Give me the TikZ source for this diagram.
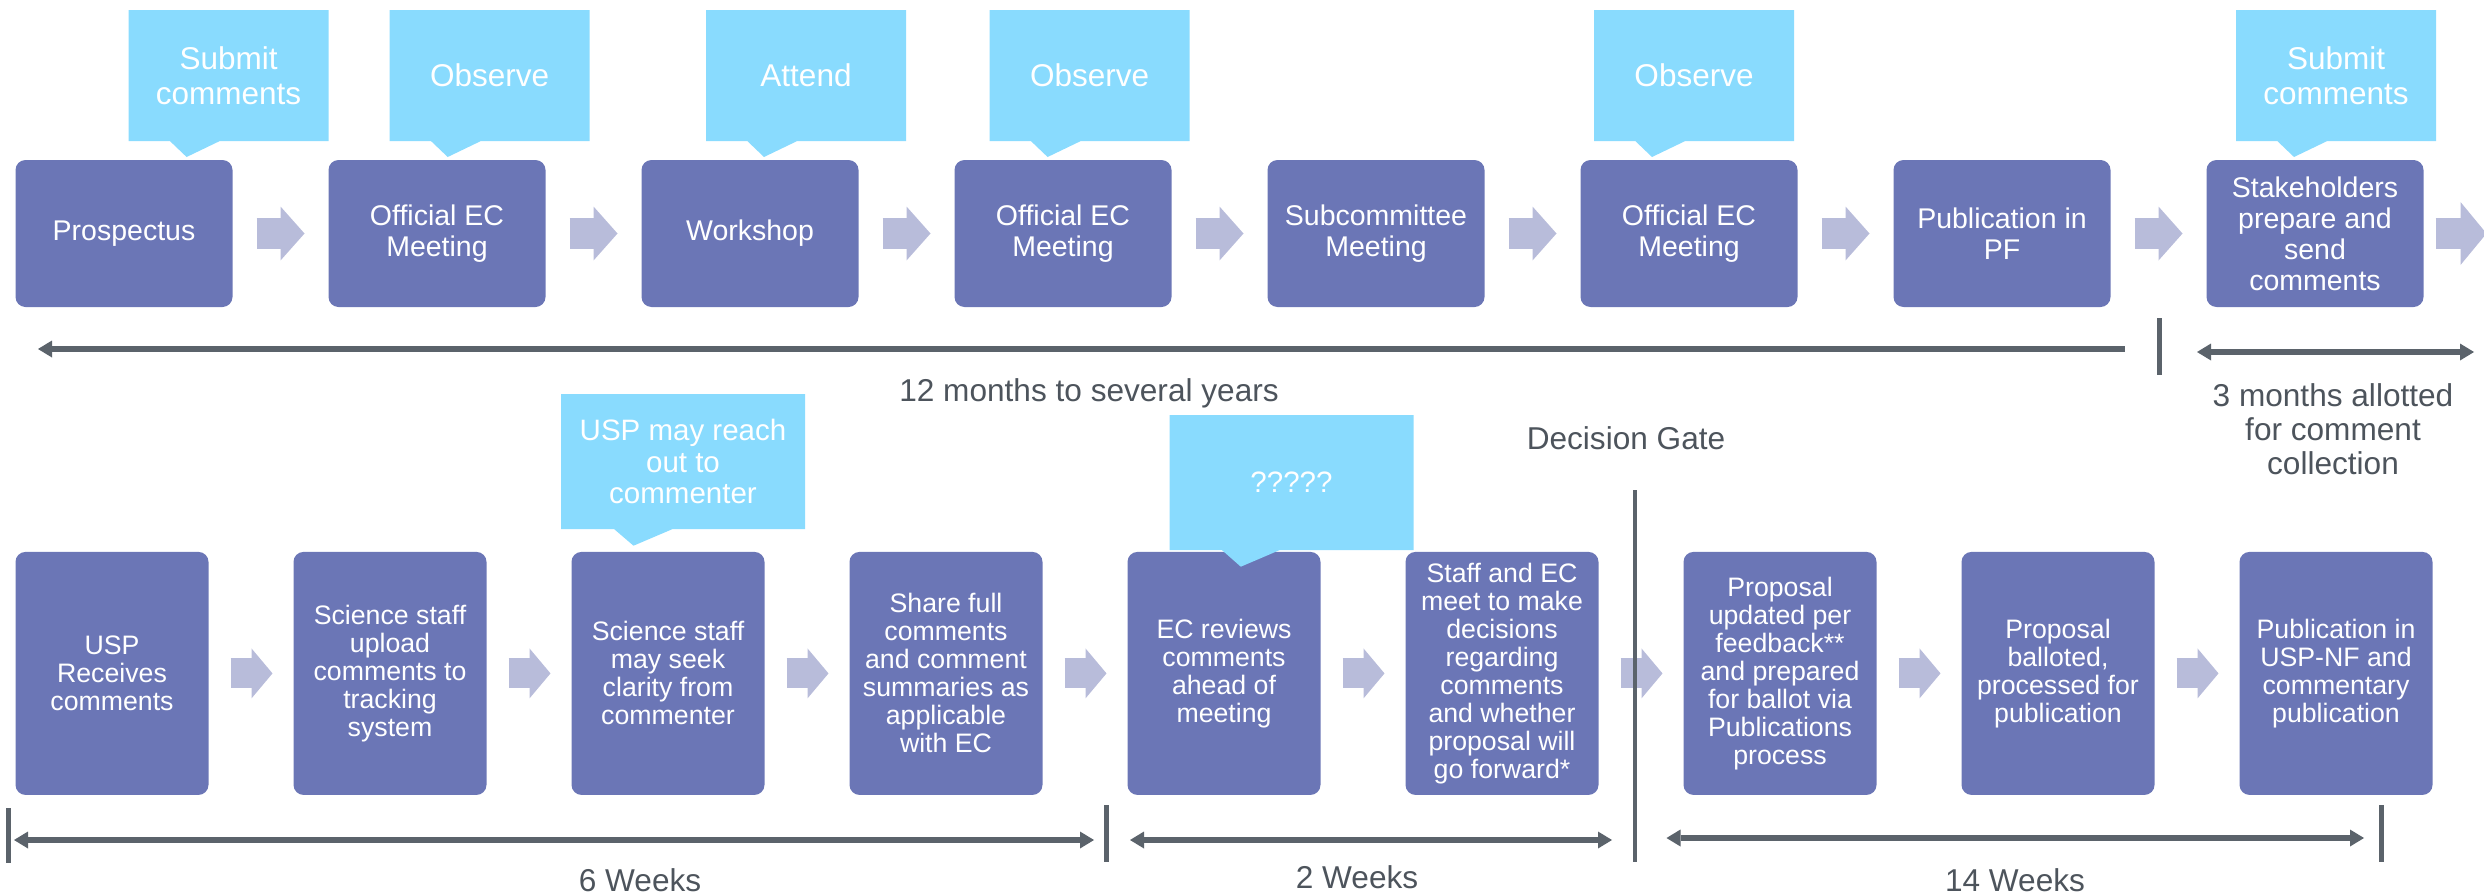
\documentclass[tikz,border=0pt]{standalone}
\usepackage{fontspec}
\setmainfont{Liberation Sans}
\usetikzlibrary{positioning,arrows.meta,shapes.callouts}

\definecolor{boxblue}{HTML}{6B76B6}
\definecolor{flowgray}{HTML}{B8BCDA}
\definecolor{noteblue}{HTML}{89DBFE}
\definecolor{linegray}{HTML}{5B636B}
\definecolor{labelgray}{HTML}{4D545C}

\begin{document}
\begin{tikzpicture}[x=1pt,y=-1pt,
    top node/.style={rectangle,rounded corners=10pt,fill=boxblue,text=white,align=center,
      inner sep=2pt,outer sep=0pt,minimum width=217pt,minimum height=147pt,
      font=\fontsize{28.5}{31}\selectfont},
    low node/.style={top node,minimum width=193pt,minimum height=243pt,
      font=\fontsize{26.7}{28}\selectfont},
    note/.style={rectangle callout,fill=noteblue,text=white,align=center,
      minimum width=200pt,minimum height=131pt,callout pointer width=50pt,
      font=\fontsize{31.5}{35}\selectfont},
    low note/.style={note,minimum width=244pt,minimum height=135pt,callout pointer width=58pt,
      font=\fontsize{29.5}{31.7}\selectfont},
    flow/.style={color=flowgray,line width=31pt,shorten <=24pt,shorten >=24pt,
      -{Triangle[length=24pt,width=54pt,line width=0pt,color=flowgray]}},
    low flow/.style={color=flowgray,line width=30pt,shorten <=22pt,shorten >=21pt,
      -{Triangle[length=21pt,width=50pt,line width=0pt,color=flowgray]}},
    span/.style={draw=linegray,line width=6pt,>={Triangle[length=14pt,width=17pt,line width=0pt]}},
    tick/.style={draw=linegray,line width=5pt},
    lbl/.style={text=labelgray,align=center,font=\fontsize{31.6}{34}\selectfont}]
  \useasboundingbox (0,0) rectangle (2484,894);

  % top row
  \node[top node] (t1) at (124,233.5) {Prospectus};
  \node[top node] (t2) [right=96pt of t1] {Official EC\\Meeting};
  \node[top node] (t3) [right=96pt of t2] {Workshop};
  \node[top node] (t4) [right=96pt of t3] {Official EC\\Meeting};
  \node[top node] (t5) [right=96pt of t4] {Subcommittee\\Meeting};
  \node[top node] (t6) [right=96pt of t5] {Official EC\\Meeting};
  \node[top node] (t7) [right=96pt of t6] {Publication in\\PF};
  \node[top node] (t8) [right=96pt of t7] {Stakeholders\\prepare and\\send\\comments};
  \coordinate[right=87pt of t8] (t9);

  \path[flow]
    (t1) edge (t2)
    (t2) edge (t3)
    (t3) edge (t4)
    (t4) edge (t5)
    (t5) edge (t6)
    (t6) edge (t7)
    (t7) edge (t8);
  \draw[flow,shorten <=12pt,-{Triangle[length=26pt,width=63pt,line width=0pt,color=flowgray]}] (t8) -- (t9);

  % bottom row
  \node[low node] (b1) at (112,673.4) {USP\\Receives\\comments};
  \node[low node] (b2) [right=85pt of b1] {Science staff\\upload\\comments to\\tracking\\system};
  \node[low node] (b3) [right=85pt of b2] {Science staff\\may seek\\clarity from\\commenter};
  \node[low node] (b4) [right=85pt of b3] {Share full\\comments\\and comment\\summaries as\\applicable\\with EC};
  \node[low node] (b5) [right=85pt of b4] {EC reviews\\comments\\ahead of\\meeting};
  \node[low node] (b6) [right=85pt of b5] {Staff and EC\\meet to make\\decisions\\regarding\\comments\\and whether\\proposal will\\go forward*};
  \node[low node] (b7) [right=85pt of b6] {Proposal\\updated per\\feedback**\\and prepared\\for ballot via\\Publications\\process};
  \node[low node] (b8) [right=85pt of b7] {Proposal\\balloted,\\processed for\\publication};
  \node[low node] (b9) [right=85pt of b8] {Publication in\\USP-NF and\\commentary\\publication};

  \path[low flow]
    (b1) edge (b2)
    (b2) edge (b3)
    (b3) edge (b4)
    (b4) edge (b5)
    (b5) edge (b6)
    (b6) edge (b7)
    (b7) edge (b8)
    (b8) edge (b9);

  % callouts
  \node[note,callout absolute pointer={(186.6,157)}] (c1) at (228.6,75.5) {Submit\\comments};
  \node[note,callout absolute pointer={(447.7,157)}] (c2) at (489.7,75.5) {Observe};
  \node[note,callout absolute pointer={(764,157)}] (c3) at (806,75.5) {Attend};
  \node[note,callout absolute pointer={(1047.6,157)}] (c4) at (1089.6,75.5) {Observe};
  \node[note,callout absolute pointer={(1652,157)}] (c5) at (1694,75.5) {Observe};
  \node[note,callout absolute pointer={(2294,157)}] (c6) at (2336,75.5) {Submit\\comments};
  \node[low note,callout absolute pointer={(633.5,545.7)}] (c7) at (683,461.7) {USP may reach\\out to\\commenter};
  \node[low note,callout absolute pointer={(1240.8,566.7)}] (c8) at (1291.5,482.5) {?????};

  % time spans
  \coordinate (s1) at (38,349);
  \coordinate (s2) at (2125,349);
  \coordinate (s3) at (2197,352);
  \coordinate (s4) at (2474,352);
  \coordinate (s5) at (14,840);
  \coordinate (s6) at (1094,840);
  \coordinate (s7) at (1130,840);
  \coordinate (s8) at (1612,840);
  \coordinate (s9) at (1666.5,838);
  \coordinate (s10) at (2364,838);
  \draw[span,<-] (s1) -- (s2);
  \draw[span,<->] (s3) -- (s4);
  \draw[span,<->] (s5) -- (s6);
  \draw[span,<->] (s7) -- (s8);
  \draw[span,<->] (s9) -- (s10);
  \draw[tick] (2159,318) -- (2159,375);
  \draw[tick] (8.4,808) -- (8.4,863);
  \draw[tick] (1106,805) -- (1106,862);
  \draw[tick] (2381,805) -- (2381,862);
  \draw[tick,line width=4.5pt] (1635,490) -- (1635,862);

  \node[lbl] (l1) at (1089,393) {12 months to several years};
  \node[lbl] (l2) at (2333,429) {3 months allotted\\for comment\\collection};
  \node[lbl] (l3) at (1626,438) {Decision Gate};
  \node[lbl] (l4) at (640,880) {6 Weeks};
  \node[lbl] (l5) at (1357,877) {2 Weeks};
  \node[lbl] (l6) at (2015,880) {14 Weeks};
\end{tikzpicture}
\end{document}
